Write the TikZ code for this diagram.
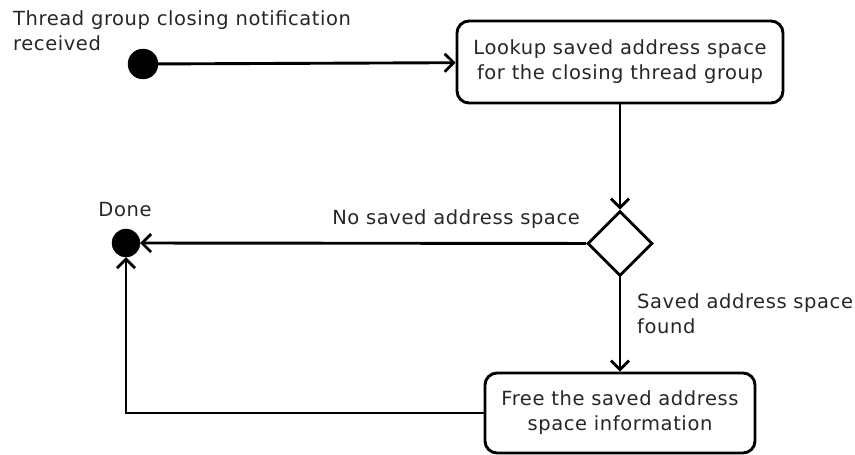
\documentclass[tikz,border=0pt]{standalone}
\usepackage{fontspec}
\setmainfont[LetterSpace=3]{DejaVu Sans}
\usetikzlibrary{arrows.meta,shapes.geometric}
\tikzset{
  action/.style={draw, rounded corners=12pt, line width=2.9pt, fill=white,
    align=center, inner sep=0pt, text=black!85},
  dot/.style={circle, fill=black, draw=black, inner sep=0pt, minimum size=#1},
  decision/.style={diamond, draw, line width=2.9pt, fill=white, inner sep=0pt,
    minimum width=65pt, minimum height=65pt},
  flow/.style={draw, line width=2.9pt, -{Straight Barb[length=9pt,width=18pt,line width=2.7pt]}},
  lbl/.style={inner sep=0pt, text=black!85, align=left},
}
\begin{document}
\begin{tikzpicture}[x=1pt, y=-1pt, font=\fontsize{19.5}{25}\selectfont]
\useasboundingbox (0,0) rectangle (855,455);

% states
\node[dot=30pt] (start) at (143,64) {};
\node[action, minimum width=326pt, minimum height=82pt] (lookup) at (620,62)
  {Lookup saved address space\\for the closing thread group};
\node[decision] (check) at (620,243.5) {};
\node[dot=28pt] (done) at (126,243) {};
\node[action, minimum width=270pt, minimum height=80pt] (free) at (620,413)
  {Free the saved address\\space information};
\coordinate (bend) at (126,413);

% transitions
\draw[flow] (start) -- (lookup);
\draw[flow] (lookup) -- (check);
\draw[flow] (check) -- (done);
\draw[flow] (check) -- (free);
\draw[flow] (free.west) -- (bend) -- (done);

% labels
\node[lbl, anchor=west] (startlbl) at (13,30.5)
  {Thread group closing notification\\received};
\node[lbl] (donelbl) at (125,210) {Done};
\node[lbl, anchor=east] (nolbl) at (580,219) {No saved address space};
\node[lbl, anchor=west] (foundlbl) at (637,313.5) {Saved address space\\found};
\end{tikzpicture}
\end{document}
